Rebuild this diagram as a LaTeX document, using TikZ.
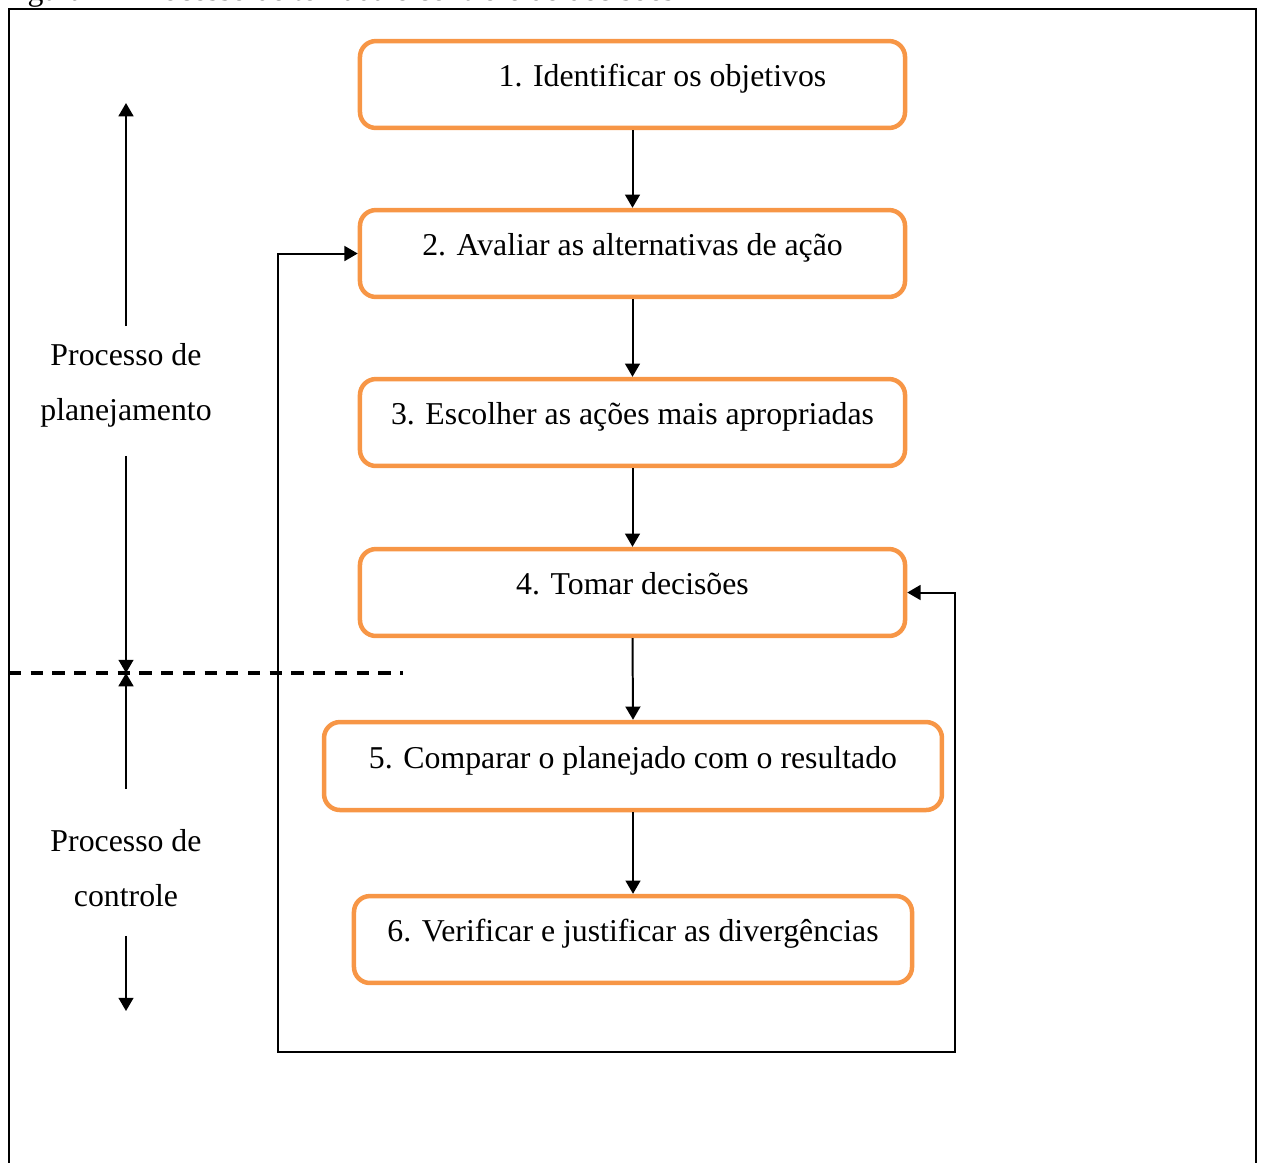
\documentclass[tikz,border=0pt]{standalone}
\usepackage{fontspec}
\setmainfont{Liberation Serif}
\usetikzlibrary{arrows.meta}
\definecolor{laranja}{RGB}{247,150,70}
\tikzset{
  passo/.style={draw=laranja, line width=1.7pt, rounded corners=6pt,
    minimum width=205.7pt, minimum height=32.8pt, inner sep=0pt,
    text height=6pt, text depth=4.5pt, font=\fontsize{12}{14.4}\selectfont},
  rotulo/.style={align=center, inner xsep=2pt, inner ysep=6pt,
    font=\fontsize{12}{20.75}\selectfont},
  divisao/.style={line width=1.3pt, dash pattern=on 4.6pt off 3.6pt}
}
\begin{document}
\begin{tikzpicture}[x=0.3774pt, y=-0.3774pt, line width=0.75pt,
    >={Triangle[length=5pt,width=5.6pt]}]
  \useasboundingbox (0,0) rectangle (1262,1162);
  \node[anchor=base west, inner sep=0pt, font=\fontsize{12}{14.4}\selectfont] (titulo) at (0,0.5)
    {Figura 1 - Processo de tomada e controle de decisões};
  \draw (9,1180) |- (1256,9) -- (1256,1180);

  \node[passo] (p1) at (632.5,84.5) {\hspace*{22.6pt}1. Identificar os objetivos};
  \node[passo] (p2) at (632.5,253.5) {2. Avaliar as alternativas de ação};
  \node[passo] (p3) at (632.5,422.5) {3. Escolher as ações mais apropriadas};
  \node[passo] (p4) at (632.5,592.5) {4. Tomar decisões};
  \node[passo, minimum width=233.2pt, minimum height=33.2pt] (p5) at (633,766) {5. Comparar o planejado com o resultado};
  \node[passo, minimum width=210.6pt] (p6) at (633,939.5) {6. Verificar e justificar as divergências};

  \foreach \a/\b in {p1/p2,p2/p3,p3/p4,p4/p5,p5/p6}
    \draw[->] (\a.south) -- (\b.north);

  \coordinate (voltaE) at (278,1052);
  \coordinate (voltaD) at (955,1052);
  \draw[<->] (p2.west) -| (voltaE) -- (voltaD) |- (p4.east);

  \coordinate (tracoE) at (9,673);
  \coordinate (tracoD) at (403,673);
  \draw[divisao] (tracoE) -- (tracoD);

  \coordinate (topo) at (126,103);
  \coordinate (divisa) at (126,673);
  \coordinate (fundo) at (126,1011);
  \node[rotulo] (planej) at (126,391) {\rule{0pt}{8.3pt}Processo de\\planejamento\rule[-7.2pt]{0pt}{7.2pt}};
  \node[rotulo] (contr) at (126,862.5) {\rule{0pt}{17pt}Processo de\\controle\rule[-4.9pt]{0pt}{4.9pt}};
  \draw[->] (planej.north) -- (topo);
  \draw[->] (planej.south) -- (divisa);
  \draw[->] (contr.north) -- (divisa);
  \draw[->] (contr.south) -- (fundo);
\end{tikzpicture}
\end{document}
